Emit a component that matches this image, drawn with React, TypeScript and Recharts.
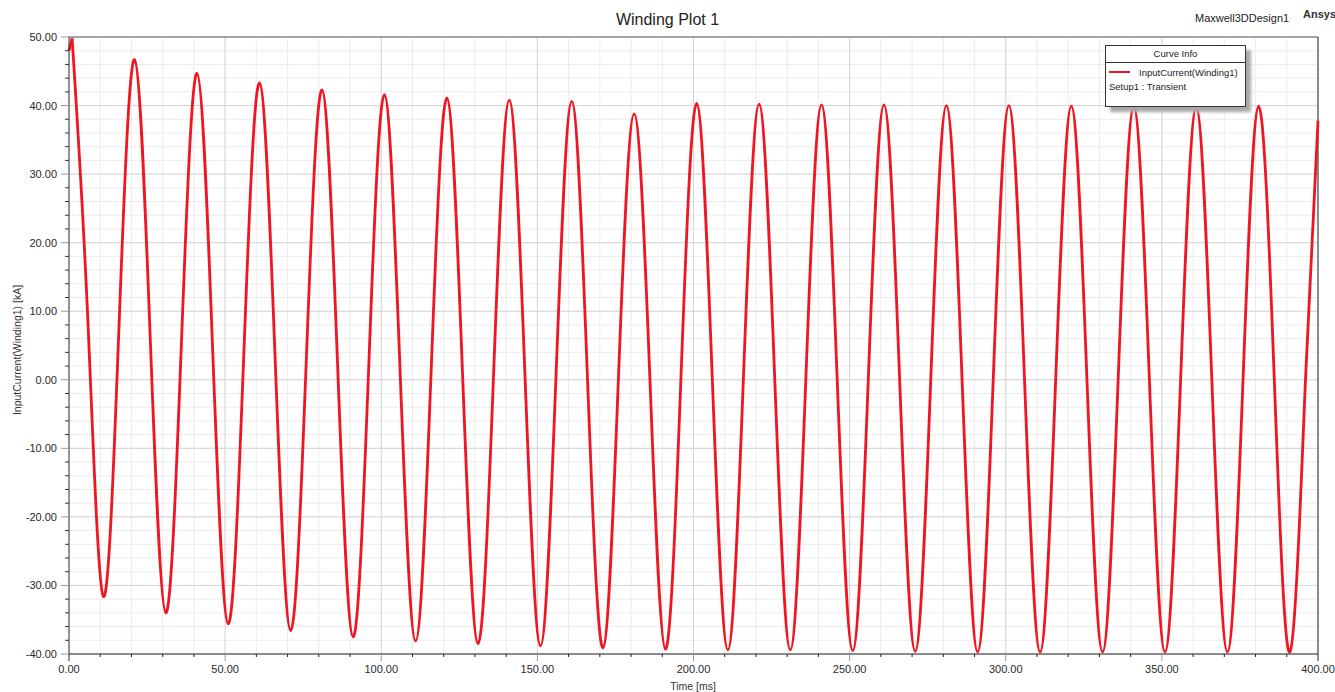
import React from 'react';
import { LineChart, Line, XAxis, YAxis, CartesianGrid, ReferenceLine } from 'recharts';

// sample times [ms]: peaks, troughs and the points half way between them
const timeMs = [
  1, 6, 11, 16, 21, 26, 31, 36, 41, 46, 51, 56, 61, 66, 71, 76, 81, 86, 91, 96,
  101, 106, 111, 116, 121, 126, 131, 136, 141, 146, 151, 156, 161, 166, 171, 176, 181, 186, 191, 196,
  201, 206, 211, 216, 221, 226, 231, 236, 241, 246, 251, 256, 261, 266, 271, 276, 281, 286, 291, 296,
  301, 306, 311, 316, 321, 326, 331, 336, 341, 346, 351, 356, 361, 366, 371, 376, 381, 386, 391, 396,
  400,
];

// InputCurrent(Winding1) [kA]
const currentKA = [
  49.8, 9.1, -31.6, 7.6, 46.7, 6.3, -34.0, 5.3, 44.7, 4.5, -35.6, 3.9, 43.3, 3.3, -36.6, 2.9, 42.3, 2.4, -37.5, 2.0,
  41.6, 1.7, -38.1, 1.5, 41.1, 1.3, -38.5, 1.1, 40.8, 1.0, -38.8, 0.9, 40.6, 0.8, -39.1, 0.7, 38.8, 0.6, -39.3, 0.5,
  40.3, 0.4, -39.4, 0.4, 40.2, 0.4, -39.4, 0.35, 40.1, 0.3, -39.5, 0.3, 40.1, 0.25, -39.6, 0.2, 40.0, 0.15, -39.7, 0.15,
  40.0, 0.15, -39.7, 0.1, 39.9, 0.1, -39.7, 0.05, 39.8, 0.05, -39.7, 0.0, 39.7, 0.0, -39.7, 0.1, 39.9, 0.1, -39.7, 0.1,
  37.8,
];

// first millisecond, before the first peak
const leadTimeMs = [0, 1];
const leadCurrentKA = [48.0, 49.8];

const xTicks = [
  0, 10, 20, 30, 40, 50, 60, 70, 80, 90, 100, 110, 120, 130, 140, 150, 160, 170, 180, 190, 200,
  210, 220, 230, 240, 250, 260, 270, 280, 290, 300, 310, 320, 330, 340, 350, 360, 370, 380, 390, 400,
];
const yTicks = [
  -40, -38, -36, -34, -32, -30, -28, -26, -24, -22, -20, -18, -16, -14, -12, -10, -8, -6, -4, -2,
  0, 2, 4, 6, 8, 10, 12, 14, 16, 18, 20, 22, 24, 26, 28, 30, 32, 34, 36, 38, 40, 42, 44, 46, 48, 50,
];
const xMajor = [50, 100, 150, 200, 250, 300, 350];
const yMajor = [-30, -20, -10, 0, 10, 20, 30, 40];

const FONT = '"Liberation Sans", Arial, sans-serif';
const RED = '#ee1620';

const mainData = timeMs.map((t, i) => ({ t, i: currentKA[i] }));
const leadData = leadTimeMs.map((t, i) => ({ t, i: leadCurrentKA[i] }));

function YTick(props: any) {
  const { x, y, payload } = props;
  const v = payload.value;
  const major = v % 10 === 0;
  return (
    <g>
      <line x1={x - (major ? 8 : 4)} x2={x} y1={y} y2={y} stroke={major ? '#999' : '#333'} />
      {major && (
        <text x={x - 12} y={y} dy={4} textAnchor="end" fontSize={11} fill="#2a2a2a" fontFamily={FONT}>
          {v.toFixed(2)}
        </text>
      )}
    </g>
  );
}

function XTick(props: any) {
  const { x, y, payload } = props;
  const v = payload.value;
  const major = v % 50 === 0;
  const edge = v === 0 || v === 400;
  return (
    <g>
      <line x1={x} x2={x} y1={y} y2={y + (major ? 7 : 3)} stroke={major && !edge ? '#999' : '#222'} />
      {major && (
        <text x={x} y={y + 19} textAnchor="middle" fontSize={11} fill="#2a2a2a" fontFamily={FONT}>
          {v.toFixed(2)}
        </text>
      )}
    </g>
  );
}

export default function App() {
  return (
    <div
      style={{
        position: 'absolute',
        left: 0,
        top: 0,
        width: 1335,
        height: 692,
        background: '#fff',
        fontFamily: FONT,
        color: '#222',
      }}
    >
      <LineChart width={1335} height={692} margin={{ top: 37, right: 17, bottom: 0, left: 0 }}>
        <CartesianGrid stroke="#ececec" />
        {yMajor.map((v) => (
          <ReferenceLine key={'y' + v} y={v} stroke="#d6d6d6" />
        ))}
        {xMajor.map((v) => (
          <ReferenceLine key={'x' + v} x={v} stroke="#d6d6d6" />
        ))}
        <ReferenceLine y={50} stroke="#555" />
        <ReferenceLine x={400} stroke="#222" />
        <XAxis
          type="number"
          dataKey="t"
          domain={[0, 400]}
          ticks={xTicks}
          interval={0}
          height={38}
          tickSize={0}
          tickMargin={0}
          tickLine={false}
          tick={<XTick />}
          axisLine={{ stroke: '#222' }}
        />
        <YAxis
          type="number"
          dataKey="i"
          domain={[-40, 50]}
          ticks={yTicks}
          interval={0}
          width={69}
          tickSize={0}
          tickMargin={0}
          tickLine={false}
          tick={<YTick />}
          axisLine={{ stroke: '#333' }}
        />
        <Line
          data={leadData}
          dataKey="i"
          type="linear"
          stroke={RED}
          strokeWidth={2.8}
          dot={false}
          isAnimationActive={false}
        />
        <Line
          data={mainData}
          dataKey="i"
          type="natural"
          stroke={RED}
          strokeWidth={2.8}
          dot={false}
          isAnimationActive={false}
        />
      </LineChart>

      <div style={{ position: 'absolute', left: 0, top: 11, width: 1335, textAlign: 'center', fontSize: 16, lineHeight: '18px' }}>
        Winding Plot 1
      </div>
      <div style={{ position: 'absolute', left: 1195, top: 12, fontSize: 11, lineHeight: '13px', color: '#222' }}>
        Maxwell3DDesign1
      </div>
      <div style={{ position: 'absolute', left: 1303, top: 8, fontSize: 11, lineHeight: '13px', fontWeight: 'bold', color: '#333' }}>
        Ansys
      </div>
      <div
        style={{
          position: 'absolute',
          left: 17,
          top: 350,
          transform: 'translate(-50%, -50%) rotate(-90deg)',
          whiteSpace: 'nowrap',
          fontSize: 10.5,
          color: '#333',
        }}
      >
        InputCurrent(Winding1) [kA]
      </div>
      <div style={{ position: 'absolute', left: 0, top: 680, width: 1386, textAlign: 'center', fontSize: 10.5, lineHeight: '12px', color: '#333' }}>
        Time [ms]
      </div>

      <div
        style={{
          position: 'absolute',
          left: 1105,
          top: 45,
          width: 141,
          height: 62,
          boxSizing: 'border-box',
          border: '1px solid #333',
          background: '#fff',
          boxShadow: '5px 5px 3px #a8a8a8',
          fontSize: 9.5,
          color: '#222',
        }}
      >
        <div style={{ height: 16, lineHeight: '16px', textAlign: 'center', borderBottom: '1px solid #333' }}>Curve Info</div>
        <div style={{ position: 'absolute', left: 3, top: 25, width: 21, height: 1.5, background: RED }} />
        <div style={{ position: 'absolute', left: 33, top: 21, lineHeight: '12px' }}>InputCurrent(Winding1)</div>
        <div style={{ position: 'absolute', left: 3, top: 35, lineHeight: '12px' }}>Setup1 : Transient</div>
      </div>
    </div>
  );
}
